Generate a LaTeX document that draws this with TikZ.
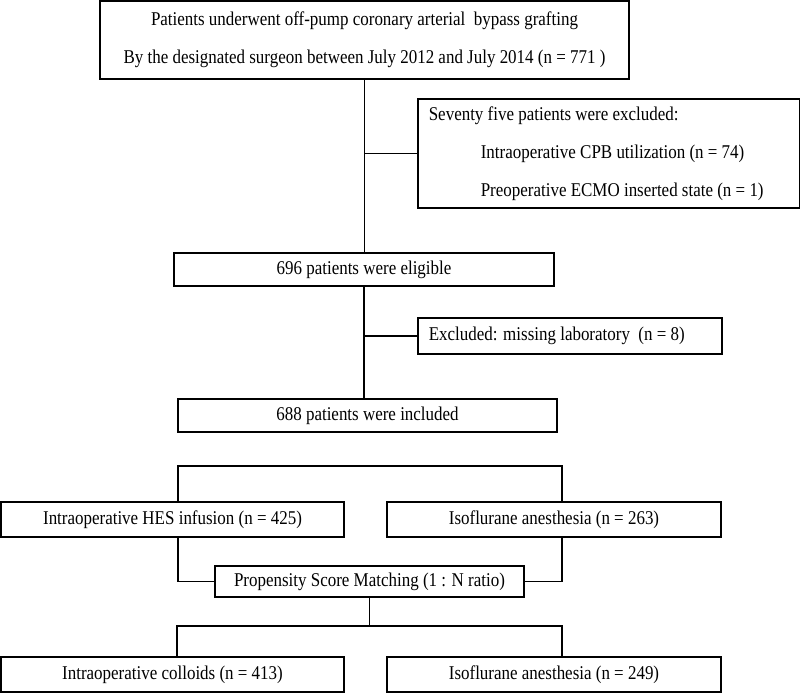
\documentclass[tikz,border=0pt]{standalone}
\usepackage{fontspec}
\setmainfont[FakeStretch=0.87]{Liberation Serif}
\usetikzlibrary{calc}

\begin{document}
\begin{tikzpicture}[x=1pt, y=-1pt, line width=1.6pt,
        every node/.style={font=\fontsize{19.5}{38}\selectfont},
        box/.style={draw, rectangle, inner sep=0pt, align=center},
        leftbox/.style={box, anchor=north west, align=flush left, inner xsep=11pt}]

    \useasboundingbox (0,0) rectangle (800,693);

    \node[box, minimum width=529pt, minimum height=78pt] (start) at (364.5,40)
        {Patients underwent off-pump coronary arterial\ \ bypass grafting\\
         By the designated surgeon between July 2012 and July 2014 (n = 771 )};
    \node[leftbox, text width=360pt, minimum height=109pt] (excl) at (417,98)
        {Seventy five patients were excluded:\\
         \hspace*{52pt}Intraoperative CPB utilization (n = 74)\\
         \hspace*{52pt}Preoperative ECMO inserted state (n = 1)};
    \node[box, minimum width=380pt, minimum height=33pt] (elig) at (364,269.5)
        {696 patients were eligible};
    \node[leftbox, text width=282pt, minimum height=36pt] (lab) at (417,317)
        {Excluded: missing laboratory\ \ (n = 8)};
    \node[box, minimum width=379pt, minimum height=33pt] (incl) at (367.5,415.5)
        {688 patients were included};

    \node[box, minimum width=343pt, minimum height=35pt] (hes) at (172.5,519.5)
        {Intraoperative HES infusion (n = 425)};
    \node[box, minimum width=334pt, minimum height=35pt] (iso) at (554,519.5)
        {Isoflurane anesthesia (n = 263)};
    \node[box, minimum width=309pt, minimum height=31pt] (psm) at (369.5,581.5)
        {Propensity Score Matching (1 : N ratio)};
    \node[box, minimum width=343pt, minimum height=35pt] (coll) at (172.5,674.5)
        {Intraoperative colloids (n = 413)};
    \node[box, minimum width=334pt, minimum height=35pt] (isomatch) at (554,674.5)
        {Isoflurane anesthesia (n = 249)};

    \coordinate (split) at (178,466);
    \coordinate (splitend) at (562,466);
    \coordinate (merge) at (177,626);
    \coordinate (mergeend) at (562,626);

    \draw (start.south) -- (start.south |- elig.north);
    \draw (start.south |- excl.west) -- (excl.west);
    \draw (elig.south) -- (elig.south |- incl.north);
    \draw (elig.south |- lab.west) -- (lab.west);

    \draw (split |- hes.north) -- (split) -- (splitend) -- (splitend |- iso.north);
    \draw (split |- hes.south) |- (psm.west);
    \draw (splitend |- iso.south) |- (psm.east);
    \draw (psm.south) -- (psm.south |- merge);
    \draw (merge |- coll.north) -- (merge) -- (mergeend) -- (mergeend |- isomatch.north);
\end{tikzpicture}
\end{document}
